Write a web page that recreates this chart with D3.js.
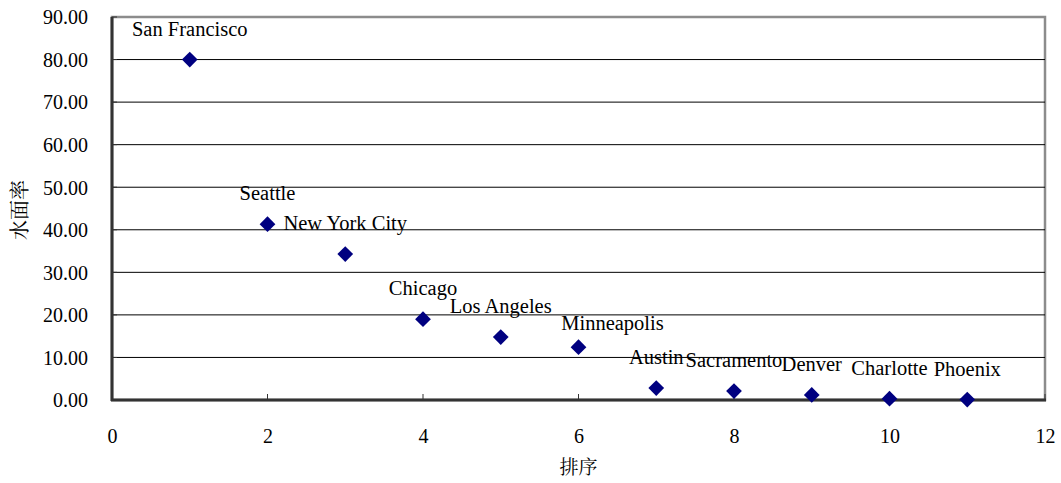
<!DOCTYPE html>
<html>
<head>
<meta charset="utf-8">
<script src="https://cdn.jsdelivr.net/npm/d3@7"></script>
<style>
  html, body { margin: 0; padding: 0; background: #fff; }
  svg { display: block; }
</style>
</head>
<body>
<svg id="chart" width="1061" height="483"></svg>
<script>
// Cities ranked by water-surface ratio
const cities = ["San Francisco", "Seattle", "New York City", "Chicago", "Los Angeles",
                "Minneapolis", "Austin", "Sacramento", "Denver", "Charlotte", "Phoenix"];
const ranks  = [1, 2, 3, 4, 5, 6, 7, 8, 9, 10, 11];
const ratios = [80.0, 41.3, 34.3, 19.0, 14.8, 12.4, 2.8, 2.1, 1.2, 0.3, 0.1];
const xTicks = [0, 2, 4, 6, 8, 10, 12];
const yTicks = [0, 10, 20, 30, 40, 50, 60, 70, 80, 90];
const xTitle = "排序";
const yTitle = "水面率";

const SERIF = "'Liberation Serif', 'Times New Roman', serif";
const CJK = "'Noto Serif CJK TC', 'Noto Sans CJK TC', serif";

const svg = d3.select("#chart");
const margin = { left: 112, right: 16, top: 17, bottom: 83 };
const W = 1061, H = 483;
const x = d3.scaleLinear().domain([0, 12]).range([margin.left, W - margin.right]);
const y = d3.scaleLinear().domain([0, 90]).range([H - margin.bottom, margin.top]);

// plot frame (top / right in grey)
svg.append("rect")
  .attr("x", x(0)).attr("y", y(90))
  .attr("width", x(12) - x(0)).attr("height", y(0) - y(90))
  .attr("fill", "none").attr("stroke", "#8c8c8c").attr("stroke-width", 2.5);

// horizontal gridlines
svg.append("g").selectAll("line")
  .data(yTicks.filter(t => t > 0 && t < 90))
  .join("line")
  .attr("x1", x(0)).attr("x2", x(12))
  .attr("y1", d => y(d)).attr("y2", d => y(d))
  .attr("stroke", "#000").attr("stroke-width", 1);

// y axis
const yAxis = d3.axisLeft(y).tickValues(yTicks).tickFormat(d3.format(".2f"))
  .tickSize(0).tickPadding(24);
const gy = svg.append("g").attr("transform", `translate(${x(0)},0)`).call(yAxis)
  .attr("font-family", null).attr("font-size", null);
gy.select(".domain").remove();
gy.selectAll("text")
  .style("font-family", SERIF).style("font-size", "20px").attr("fill", "#000")
  .attr("dy", "0.34em");
svg.append("g").selectAll("line").data(yTicks).join("line")
  .attr("x1", x(0)).attr("x2", x(0) + 5)
  .attr("y1", d => y(d)).attr("y2", d => y(d))
  .attr("stroke", "#333").attr("stroke-width", 1);

// x axis
const xAxis = d3.axisBottom(x).tickValues(xTicks).tickFormat(d3.format("d"))
  .tickSize(0).tickPadding(29);
const gx = svg.append("g").attr("transform", `translate(0,${y(0)})`).call(xAxis)
  .attr("font-family", null).attr("font-size", null);
gx.select(".domain").remove();
gx.selectAll("text")
  .style("font-family", SERIF).style("font-size", "20px").attr("fill", "#000")
  .attr("dy", "0.71em");
svg.append("g").selectAll("line").data(xTicks).join("line")
  .attr("x1", d => x(d)).attr("x2", d => x(d))
  .attr("y1", y(0)).attr("y2", y(0) - 6)
  .attr("stroke", "#333").attr("stroke-width", 1);

// axis lines
svg.append("line").attr("x1", x(0)).attr("x2", x(0))
  .attr("y1", y(90)).attr("y2", y(0) + 1)
  .attr("stroke", "#333").attr("stroke-width", 3);
svg.append("line").attr("x1", x(0) - 1).attr("x2", x(12) + 1)
  .attr("y1", y(0)).attr("y2", y(0))
  .attr("stroke", "#333").attr("stroke-width", 3);

// axis titles
svg.append("text")
  .style("font-family", CJK).style("font-size", "19px").attr("fill", "#000")
  .attr("x", x(6)).attr("y", 474)
  .attr("text-anchor", "middle").text(xTitle);
svg.append("text")
  .style("font-family", CJK).style("font-size", "20px").attr("fill", "#000")
  .attr("transform", `translate(27,210) rotate(-90)`)
  .attr("text-anchor", "middle").text(yTitle);

// points
const pts = ranks.map((r, i) => ({ r, v: ratios[i], name: cities[i] }));
const diamond = d3.symbol().type(d3.symbolSquare).size(124);
svg.append("g").selectAll("path").data(pts).join("path")
  .attr("d", diamond)
  .attr("transform", d => `translate(${x(d.r)},${y(d.v)}) rotate(45)`)
  .attr("fill", "#000080");

// city labels, centred above each point (Minneapolis nudged right)
const labelShift = { "Minneapolis": [34, 7] };
svg.append("g").selectAll("text").data(pts).join("text")
  .style("font-family", SERIF).style("font-size", "20.5px").attr("fill", "#000")
  .attr("text-anchor", "middle")
  .attr("x", d => x(d.r) + (labelShift[d.name] ? labelShift[d.name][0] : 0))
  .attr("y", d => y(d.v) - 24 + (labelShift[d.name] ? labelShift[d.name][1] : 0))
  .text(d => d.name);
</script>
</body>
</html>
